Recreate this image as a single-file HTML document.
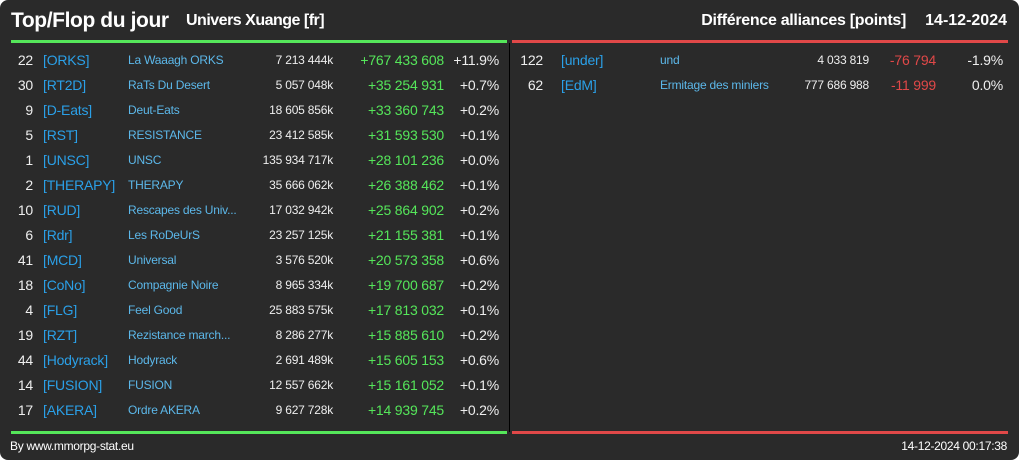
<!DOCTYPE html>
<html><head><meta charset="utf-8"><style>
html,body{margin:0;padding:0;background:#fff;}
#card{position:relative;width:1019px;height:460px;background:#2a2a2a;border-radius:8px;overflow:hidden;font-family:"Liberation Sans",sans-serif;color:#eee;}
.a{position:absolute;white-space:nowrap;line-height:1;}
.r{text-align:right;}
</style></head><body>
<div id="card">
<div class="a" style="left:11px;top:10px;font-size:21px;font-weight:bold;color:#fff;letter-spacing:-0.4px">Top/Flop du jour</div>
<div class="a" style="left:186px;top:13px;font-size:16px;font-weight:bold;color:#fff;letter-spacing:-0.5px">Univers Xuange [fr]</div>
<div class="a r" style="right:113px;top:13px;font-size:16px;font-weight:bold;color:#fff;letter-spacing:-0.3px">Différence alliances [points]</div>
<div class="a r" style="right:12px;top:13px;font-size:16px;font-weight:bold;color:#fff">14-12-2024</div>
<div class="a" style="left:11px;top:40px;width:496px;height:3px;background:#55e65a"></div>
<div class="a" style="left:512px;top:40px;width:496px;height:3px;background:#e04848"></div>
<div class="a" style="left:509px;top:43px;width:1px;height:389px;background:#000"></div>
<div class="a" style="left:11px;top:431px;width:496px;height:3px;background:#55e65a"></div>
<div class="a" style="left:512px;top:431px;width:496px;height:3px;background:#e04848"></div>
<div class="a" style="left:10px;top:440px;font-size:12px;color:#fff;letter-spacing:-0.3px">By www.mmorpg-stat.eu</div>
<div class="a r" style="right:12px;top:440px;font-size:12px;color:#fff;letter-spacing:-0.3px">14-12-2024 00:17:38</div>
</div>
<script>
const topRanks=[22,30,9,5,1,2,10,6,41,18,4,19,44,14,17];
const topTags=["[ORKS]","[RT2D]","[D-Eats]","[RST]","[UNSC]","[THERAPY]","[RUD]","[Rdr]","[MCD]","[CoNo]","[FLG]","[RZT]","[Hodyrack]","[FUSION]","[AKERA]"];
const topNames=["La Waaagh ORKS","RaTs Du Desert","Deut-Eats","RESISTANCE","UNSC","THERAPY","Rescapes des Univ...","Les RoDeUrS","Universal","Compagnie Noire","Feel Good","Rezistance march...","Hodyrack","FUSION","Ordre AKERA"];
const topPoints=["7 213 444k","5 057 048k","18 605 856k","23 412 585k","135 934 717k","35 666 062k","17 032 942k","23 257 125k","3 576 520k","8 965 334k","25 883 575k","8 286 277k","2 691 489k","12 557 662k","9 627 728k"];
const topDiffs=["+767 433 608","+35 254 931","+33 360 743","+31 593 530","+28 101 236","+26 388 462","+25 864 902","+21 155 381","+20 573 358","+19 700 687","+17 813 032","+15 885 610","+15 605 153","+15 161 052","+14 939 745"];
const topPcts=["+11.9%","+0.7%","+0.2%","+0.1%","+0.0%","+0.1%","+0.2%","+0.1%","+0.6%","+0.2%","+0.1%","+0.2%","+0.6%","+0.1%","+0.2%"];
const flopRanks=[122,62];
const flopTags=["[under]","[EdM]"];
const flopNames=["und","Ermitage des miniers"];
const flopPoints=["4 033 819","777 686 988"];
const flopDiffs=["-76 794","-11 999"];
const flopPcts=["-1.9%","0.0%"];
const card=document.getElementById('card');
function put(txt,x,y,size,color,right,name){
  const el=document.createElement('div');
  el.className='a'+(right?' r':'');
  el.textContent=txt;
  el.style.top=(y-size*0.5)+'px';
  el.style.fontSize=size+'px';
  el.style.color=color;
  el.style.letterSpacing='-0.2px';
  if(right){el.style.right=(1019-x)+'px';}else{el.style.left=x+'px';}
  
  
  card.appendChild(el);
  return el;
}
function rows(ranks,tags,names,points,diffs,pcts,c,diffColor,prefix){
  for(let i=0;i<ranks.length;i++){
    const y=60+i*25;
    put(String(ranks[i]),c[0],y,14,'#eee',true,prefix+'-rank');
    const t=put(tags[i],c[1],y,14,'#2aa0e8',false,prefix+'-tag');
    
    const n=put(names[i],c[2],y,12,'#5cb8ea',false,prefix+'-name');
    
    put(points[i],c[3],y,12,'#eee',true,prefix+'-points');
    put(diffs[i],c[4],y,14,diffColor,true,prefix+'-diff');
    put(pcts[i],c[5],y,14,'#eee',true,prefix+'-percent');
  }
}
rows(topRanks,topTags,topNames,topPoints,topDiffs,topPcts,[33,43,128,333,444,499],'#55e65a','top-row');
rows(flopRanks,flopTags,flopNames,flopPoints,flopDiffs,flopPcts,[543,561,660,869,936,1003],'#e04848','flop-row');
</script>
</body></html>
